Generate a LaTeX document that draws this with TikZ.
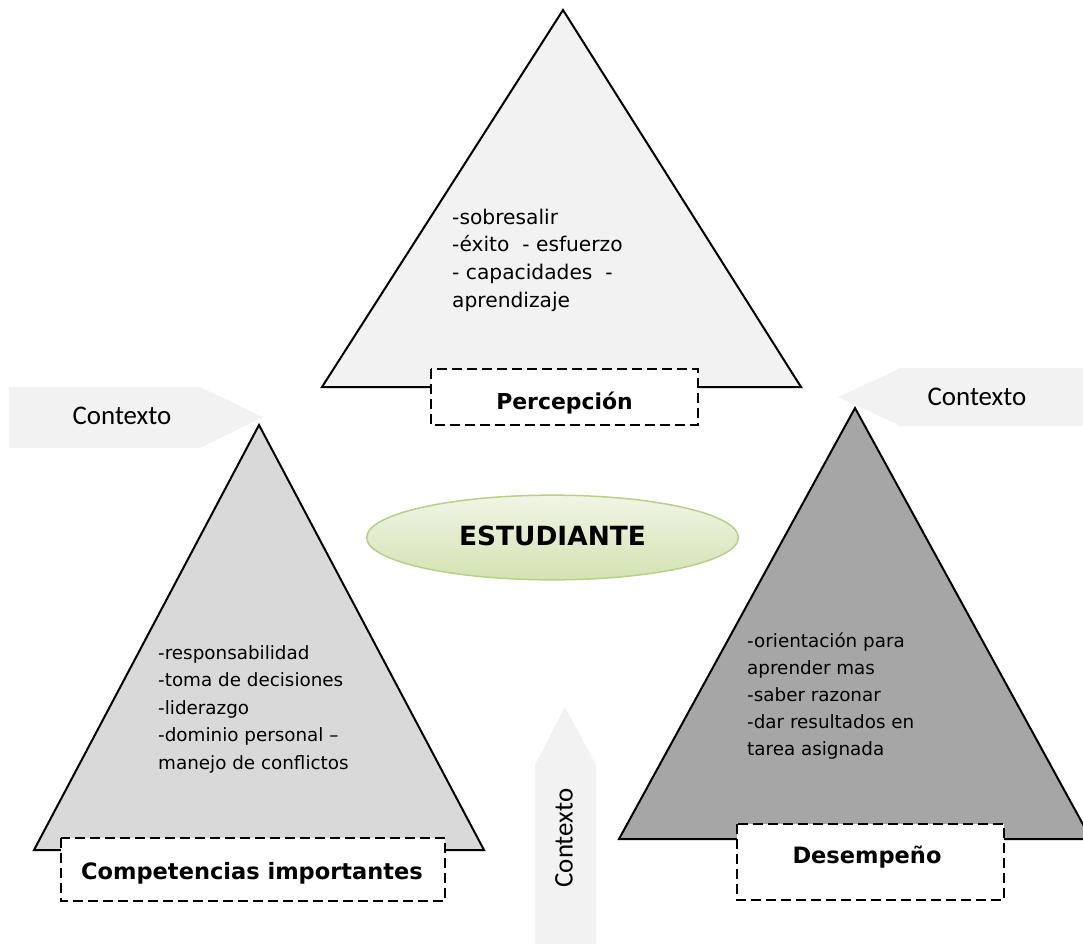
\documentclass[tikz,border=0pt]{standalone}
\usepackage{fontspec}
\setmainfont{DejaVu Sans}
\newfontfamily\calibfont{Carlito}
\usetikzlibrary{shapes.geometric}
\definecolor{triA}{HTML}{F2F2F2}
\definecolor{triB}{HTML}{D9D9D9}
\definecolor{triC}{HTML}{A6A6A6}
\definecolor{arrowgray}{HTML}{F2F2F2}
\definecolor{elltop}{HTML}{F0F5E6}
\definecolor{ellbot}{HTML}{D3E3B2}
\definecolor{ellline}{HTML}{B8CF8C}
\begin{document}
\begin{tikzpicture}[x=1bp,y=-1bp,
  tri/.style={draw=black,line width=2bp,line join=miter},
  ctxarrow/.style={fill=arrowgray,draw=none},
  labelbox/.style={draw=black,fill=white,dash pattern=on 10bp off 5bp,line width=2bp},
  ctxtext/.style={font=\calibfont\fontsize{27}{32}\selectfont,inner sep=0pt},
  titletext/.style={font=\bfseries\fontsize{22.6}{26}\selectfont,inner sep=0pt,anchor=base},
  bodytext/.style={align=left,inner sep=0pt,anchor=base west}]
\useasboundingbox (0,0) rectangle (1083,944);
\clip (0,0) rectangle (1083,944);

% context arrows
\draw[ctxarrow] (9,387) -- (200,387) -- (263,417) -- (200,448) -- (9,448) -- cycle;
\node[ctxtext] (ctxleft) at (122,416) {Contexto};
\draw[ctxarrow] (1083,368) -- (901,368) -- (838,397) -- (901,426) -- (1083,426) -- cycle;
\node[ctxtext] (ctxright) at (977,397) {Contexto};
\draw[ctxarrow] (535,944) -- (535,765) -- (565,707) -- (596,765) -- (596,944) -- cycle;
\node[ctxtext,rotate=90] (ctxbottom) at (564,838) {Contexto};

% top triangle
\draw[tri,fill=triA] (563,10) -- (801,387) -- (322,387) -- cycle;
\draw[labelbox] (431,369) rectangle (698,425);
\node[titletext,font=\bfseries\fontsize{22}{26}\selectfont] (percepcion) at (564.5,409) {Percepción};
\node[bodytext,font=\fontsize{20.3}{27.7}\selectfont] (toptext) at (452,307)
  {-sobresalir\\-éxito\ \ - esfuerzo\\- capacidades\ \ -\\aprendizaje};

% left triangle
\draw[tri,fill=triB] (259,425) -- (484,850) -- (34,850) -- cycle;
\draw[labelbox] (61,838) rectangle (445,901);
\node[titletext] (competencias) at (252,879) {Competencias importantes};
\node[bodytext,font=\fontsize{18.4}{27.5}\selectfont] (lefttext) at (158,769)
  {-responsabilidad\\-toma de decisiones\\-liderazgo\\-dominio personal –\\manejo de conflictos};

% right triangle
\draw[tri,fill=triC] (855,408) -- (1091,839) -- (619,839) -- cycle;
\draw[labelbox] (737,824) rectangle (1004,900);
\node[titletext] (desempeno) at (867,863) {Desempeño};
\node[bodytext,font=\fontsize{18.4}{27}\selectfont] (righttext) at (747,755)
  {-orientación para\\aprender mas\\-saber razonar\\-dar resultados en\\tarea asignada};

% centre ellipse
\node[ellipse,draw=ellline,line width=1.5bp,top color=elltop,bottom color=ellbot,
  minimum width=373,minimum height=85,inner sep=0pt] (estudiante) at (552.5,537.5) {};
\node[font=\bfseries\fontsize{26.5}{30}\selectfont,inner sep=0pt,anchor=base] (estlabel) at (552.5,545) {ESTUDIANTE};
\end{tikzpicture}
\end{document}
